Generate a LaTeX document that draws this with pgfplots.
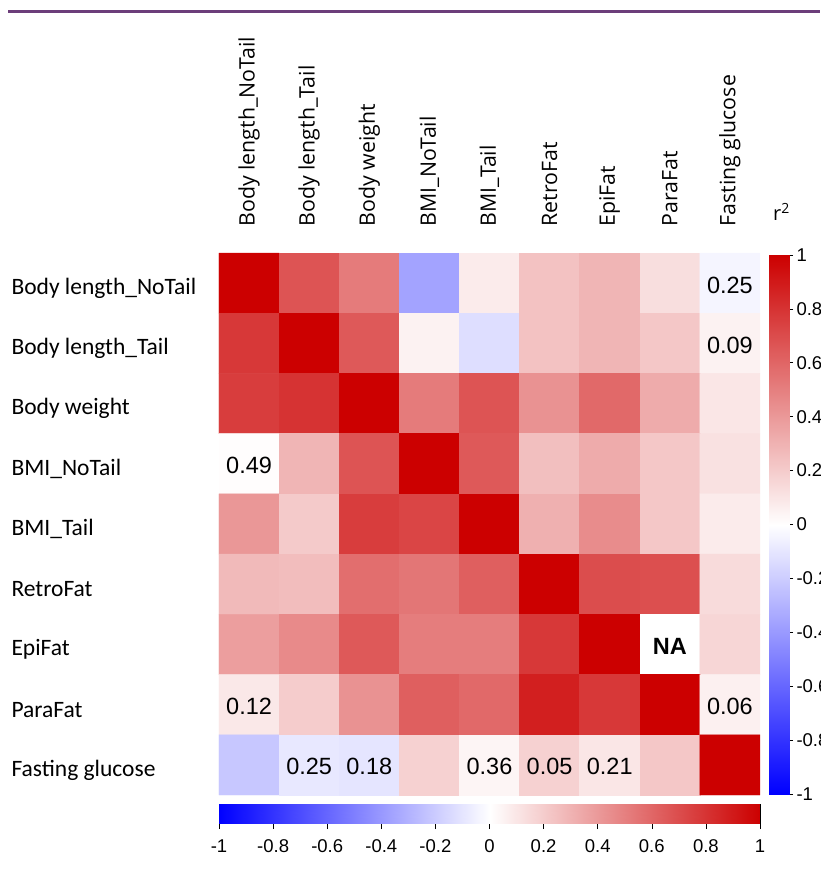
\documentclass[border=0pt]{standalone}
\usepackage{fontspec}
\setmainfont{Liberation Sans}
\newfontfamily\carlito{Carlito}
\newfontfamily\osans{Open Sans}
\usepackage{pgfplots}
\pgfplotsset{compat=1.18}
\usepackage{pgfplotstable}
\definecolor{topline}{RGB}{108,62,122}

\pgfplotstableread{
x y c
0 0 1
1 0 0.67
2 0 0.52
3 0 -0.36
4 0 0.08
5 0 0.24
6 0 0.29
7 0 0.13
8 0 -0.04
0 1 0.78
1 1 1
2 1 0.65
3 1 0.05
4 1 -0.13
5 1 0.24
6 1 0.29
7 1 0.22
8 1 0.05
0 2 0.76
1 2 0.8
2 2 1
3 2 0.52
4 2 0.67
5 2 0.43
6 2 0.59
7 2 0.33
8 2 0.1
0 3 0.01
1 3 0.29
2 3 0.67
3 3 1
4 3 0.65
5 3 0.25
6 3 0.33
7 3 0.22
8 3 0.12
0 4 0.41
1 4 0.21
2 4 0.76
3 4 0.73
4 4 1
5 4 0.31
6 4 0.45
7 4 0.22
8 4 0.08
0 5 0.27
1 5 0.26
2 5 0.57
3 5 0.54
4 5 0.63
5 5 1
6 5 0.7
7 5 0.69
8 5 0.14
0 6 0.38
1 6 0.46
2 6 0.65
3 6 0.51
4 6 0.51
5 6 0.78
6 6 1
7 6 0
8 6 0.16
0 7 0.09
1 7 0.2
2 7 0.43
3 7 0.63
4 7 0.59
5 7 0.88
6 7 0.78
7 7 1
8 7 0.06
0 8 -0.22
1 8 -0.09
2 8 -0.1
3 8 0.18
4 8 0.04
5 8 0.18
6 8 0.1
7 8 0.22
8 8 1
}\corr

\pgfplotstableread{
x y t
8 0 0.25
8 1 0.09
0 3 0.49
0 7 0.12
8 7 0.06
1 8 0.25
2 8 0.18
4 8 0.36
5 8 0.05
6 8 0.21
}\labs

\pgfplotsset{
  colormap={rwb}{rgb255(0cm)=(0,0,255); rgb255(1cm)=(255,255,255); rgb255(2cm)=(204,0,0)},
}

\begin{document}
\begin{tikzpicture}[x=1pt,y=1pt]
\useasboundingbox (0,0) rectangle (820,884);
\draw[topline, line width=3pt] (8,872.5) -- (820,872.5);

\begin{axis}[
  at={(219pt,89pt)}, anchor=south west, scale only axis,
  width=541pt, height=542pt,
  xmin=-0.5, xmax=8.5, ymin=-0.5, ymax=8.5, y dir=reverse,
  point meta min=-1, point meta max=1,
  axis line style={draw=none},
  major tick length=0pt,
  xtick={0,...,8}, ytick={0,...,8},
  xticklabels={Body length\_NoTail, Body length\_Tail, Body weight, BMI\_NoTail, BMI\_Tail, RetroFat, EpiFat, ParaFat, Fasting glucose},
  yticklabels={Body length\_NoTail, Body length\_Tail, Body weight, BMI\_NoTail, BMI\_Tail, RetroFat, EpiFat, ParaFat, Fasting glucose},
  xticklabel pos=upper,
  xticklabel shift=21pt,
  xticklabel style={rotate=90, anchor=west, xshift=2pt, font=\osans\fontsize{21.3}{25}\selectfont},
  yticklabel style={anchor=west, xshift=-211pt, yshift=-5pt, font=\carlito\fontsize{23.5}{28}\selectfont},
  clip=false,
]
\addplot[matrix plot*, mesh/cols=9, mesh/rows=9, point meta=explicit] table[x=x, y=y, meta=c] {\corr};
\addplot[draw=none, mark=none, point meta=explicit symbolic,
  nodes near coords={\pgfplotspointmeta},
  nodes near coords style={anchor=center, text=black, yshift=-2pt, font=\fontsize{23.5}{28}\selectfont}]
  table[x=x, y=y, meta=t] {\labs};
\addplot[draw=none, mark=none,
  nodes near coords={\bfseries NA},
  nodes near coords style={anchor=center, text=black, yshift=-2pt, font=\fontsize{23.5}{28}\selectfont}]
  coordinates {(7,6)};
\end{axis}

% vertical colour scale
\begin{axis}[
  at={(769pt,90pt)}, anchor=south west, scale only axis,
  width=20pt, height=539pt,
  xmin=0, xmax=1, ymin=-1, ymax=1,
  point meta min=-1, point meta max=1,
  xtick=\empty,
  ytick={-1,-0.8,-0.6,-0.4,-0.2,0,0.2,0.4,0.6,0.8,1},
  ytick pos=right, yticklabel pos=right, tick align=outside,
  major tick length=4pt,
  tick style={black, line width=0.6pt},
  axis line style={black, line width=0.8pt},
  /pgf/number format/assume math mode=true,
  yticklabel style={anchor=west, font=\fontsize{18.5}{22}\selectfont},
]
\addplot[surf, shader=interp, mesh/cols=2, point meta=y] coordinates {(0,-1) (1,-1) (0,0) (1,0) (0,1) (1,1)};
\end{axis}

% horizontal colour scale
\begin{axis}[
  at={(219pt,61pt)}, anchor=south west, scale only axis,
  width=541pt, height=19pt,
  xmin=-1, xmax=1, ymin=0, ymax=1,
  point meta min=-1, point meta max=1,
  ytick=\empty,
  xtick={-1,-0.8,-0.6,-0.4,-0.2,0,0.2,0.4,0.6,0.8,1},
  xtick pos=bottom, tick align=outside,
  major tick length=6pt,
  tick style={black, line width=0.6pt},
  axis line style={black, line width=0.8pt},
  /pgf/number format/assume math mode=true,
  xticklabel shift=7pt,
  xticklabel style={font=\fontsize{18.5}{22}\selectfont},
]
\addplot[surf, shader=interp, mesh/cols=3, point meta=x] coordinates {(-1,0) (0,0) (1,0) (-1,1) (0,1) (1,1)};
\end{axis}

\node[anchor=base west, font=\osans\fontsize{20}{24}\selectfont, inner sep=0pt] at (773,663) {r\textsuperscript{2}};
\end{tikzpicture}
\end{document}
